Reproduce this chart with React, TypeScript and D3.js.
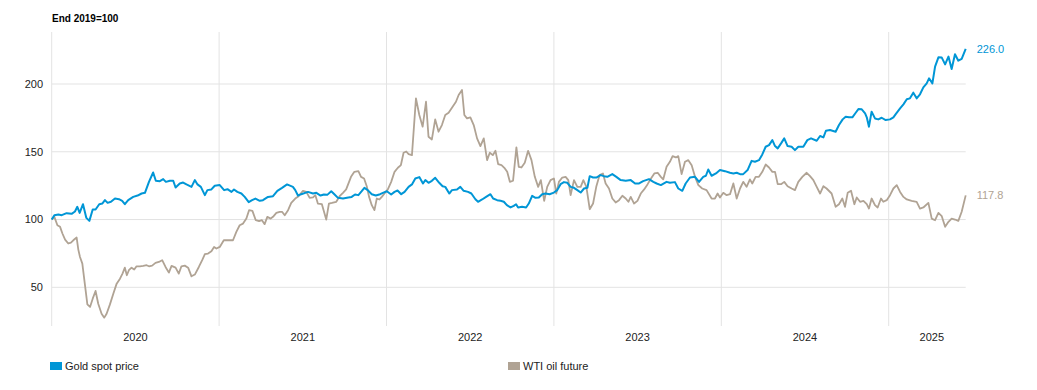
import React, { useEffect } from 'react';
import * as d3 from 'd3';

// index values, end 2019 = 100; time in fractional years
const title = 'End 2019=100';
const yearTicks = [2020, 2021, 2022, 2023, 2024, 2025];
const valueTicks = [50, 100, 150, 200];
const seriesNames = ['Gold spot price', 'WTI oil future'];
const seriesColors = ['#0096d6', '#b0a394'];

const gold: [number, number][] = [
  [2020.000, 100.0], [2020.016, 103.2], [2020.040, 103.7], [2020.060, 103.2], [2020.089, 104.7],
  [2020.119, 104.2], [2020.139, 105.9], [2020.153, 109.4], [2020.167, 104.9], [2020.187, 111.3],
  [2020.207, 101.2], [2020.225, 99.0], [2020.245, 107.4], [2020.262, 107.4], [2020.284, 111.3],
  [2020.302, 111.8], [2020.318, 114.3], [2020.334, 112.3], [2020.354, 113.1], [2020.378, 115.5],
  [2020.402, 115.0], [2020.421, 113.8], [2020.437, 111.3], [2020.457, 114.3], [2020.487, 116.7],
  [2020.513, 117.7], [2020.537, 119.2], [2020.557, 119.7], [2020.581, 127.8], [2020.606, 134.7],
  [2020.622, 128.6], [2020.646, 128.3], [2020.666, 129.8], [2020.682, 127.8], [2020.706, 128.6],
  [2020.726, 128.6], [2020.740, 123.6], [2020.765, 126.6], [2020.785, 127.3], [2020.805, 125.9],
  [2020.835, 124.1], [2020.855, 129.1], [2020.871, 125.9], [2020.891, 124.1], [2020.915, 118.0],
  [2020.930, 121.7], [2020.954, 122.2], [2020.974, 124.9], [2021.004, 125.4], [2021.030, 121.7],
  [2021.050, 122.4], [2021.074, 120.4], [2021.089, 122.2], [2021.109, 120.4], [2021.133, 119.2],
  [2021.153, 116.7], [2021.177, 112.8], [2021.197, 114.3], [2021.217, 115.5], [2021.243, 113.8],
  [2021.262, 114.3], [2021.292, 116.7], [2021.322, 117.2], [2021.348, 121.2], [2021.376, 123.4],
  [2021.406, 125.9], [2021.441, 124.1], [2021.455, 121.7], [2021.471, 117.7], [2021.491, 118.7],
  [2021.531, 120.4], [2021.561, 119.2], [2021.581, 119.7], [2021.606, 117.7], [2021.626, 118.5],
  [2021.646, 118.2], [2021.670, 120.9], [2021.690, 118.5], [2021.710, 116.0], [2021.740, 115.5],
  [2021.772, 116.3], [2021.792, 116.7], [2021.812, 118.5], [2021.832, 118.0], [2021.852, 120.9],
  [2021.868, 123.4], [2021.888, 121.7], [2021.912, 118.7], [2021.936, 117.7], [2021.962, 118.7],
  [2021.982, 119.9], [2022.002, 120.9], [2022.028, 118.5], [2022.048, 120.4], [2022.066, 121.4],
  [2022.088, 118.7], [2022.108, 120.4], [2022.132, 124.1], [2022.152, 125.9], [2022.172, 130.3],
  [2022.196, 131.3], [2022.218, 126.6], [2022.232, 129.1], [2022.251, 127.1], [2022.271, 128.6],
  [2022.291, 130.8], [2022.315, 127.1], [2022.335, 124.6], [2022.351, 124.1], [2022.375, 119.2],
  [2022.391, 121.7], [2022.421, 122.2], [2022.441, 124.1], [2022.461, 121.2], [2022.487, 120.4],
  [2022.507, 119.2], [2022.531, 115.0], [2022.547, 113.1], [2022.571, 114.8], [2022.595, 116.7],
  [2022.621, 118.7], [2022.637, 115.5], [2022.661, 114.3], [2022.681, 113.8], [2022.701, 113.1],
  [2022.719, 110.6], [2022.741, 108.9], [2022.760, 110.1], [2022.774, 111.3], [2022.786, 108.9],
  [2022.810, 109.4], [2022.834, 108.9], [2022.850, 111.8], [2022.870, 117.5], [2022.890, 116.0],
  [2022.910, 116.3], [2022.930, 118.7], [2022.950, 119.2], [2022.974, 118.7], [2023.000, 119.9],
  [2023.020, 121.7], [2023.040, 126.1], [2023.060, 127.6], [2023.080, 127.1], [2023.100, 124.1],
  [2023.120, 123.4], [2023.140, 121.7], [2023.160, 119.9], [2023.180, 122.9], [2023.200, 123.4],
  [2023.214, 132.0], [2023.234, 131.0], [2023.253, 131.0], [2023.279, 132.8], [2023.299, 132.0],
  [2023.319, 131.5], [2023.349, 133.5], [2023.373, 131.5], [2023.399, 129.1], [2023.429, 128.6],
  [2023.459, 129.1], [2023.485, 126.6], [2023.509, 126.6], [2023.533, 128.3], [2023.568, 129.8],
  [2023.594, 127.8], [2023.614, 126.6], [2023.639, 125.4], [2023.673, 127.8], [2023.693, 127.1],
  [2023.723, 127.6], [2023.743, 122.9], [2023.767, 121.2], [2023.787, 126.6], [2023.813, 131.0],
  [2023.843, 131.5], [2023.867, 127.8], [2023.892, 131.5], [2023.908, 132.3], [2023.922, 136.9],
  [2023.942, 132.3], [2023.968, 134.0], [2023.992, 136.5], [2024.022, 135.7], [2024.052, 134.5],
  [2024.072, 134.0], [2024.092, 134.5], [2024.112, 133.5], [2024.131, 133.5], [2024.157, 136.5],
  [2024.181, 143.3], [2024.201, 142.6], [2024.225, 143.8], [2024.245, 148.0], [2024.265, 153.7],
  [2024.285, 154.9], [2024.305, 158.6], [2024.321, 154.2], [2024.337, 152.5], [2024.357, 156.2],
  [2024.376, 159.9], [2024.396, 154.2], [2024.420, 153.7], [2024.440, 151.2], [2024.460, 153.7],
  [2024.490, 153.7], [2024.514, 158.6], [2024.536, 159.9], [2024.570, 158.1], [2024.590, 161.6],
  [2024.610, 160.6], [2024.625, 165.5], [2024.649, 166.0], [2024.683, 164.8], [2024.703, 169.7],
  [2024.725, 173.9], [2024.743, 175.9], [2024.763, 175.4], [2024.783, 175.4], [2024.803, 178.8],
  [2024.819, 181.5], [2024.839, 181.3], [2024.859, 178.3], [2024.869, 175.4], [2024.882, 168.5],
  [2024.898, 179.6], [2024.918, 174.6], [2024.938, 173.9], [2024.958, 175.1], [2024.982, 173.4],
  [2025.008, 173.9], [2025.028, 175.4], [2025.042, 177.8], [2025.068, 182.0], [2025.088, 185.0],
  [2025.108, 188.7], [2025.127, 189.4], [2025.147, 193.6], [2025.167, 189.4], [2025.187, 192.4],
  [2025.207, 197.5], [2025.227, 200.5], [2025.241, 204.2], [2025.261, 200.5], [2025.277, 212.8],
  [2025.297, 219.7], [2025.317, 219.5], [2025.337, 214.5], [2025.357, 220.2], [2025.376, 211.1],
  [2025.396, 221.9], [2025.416, 217.2], [2025.436, 218.5], [2025.460, 226.0],
];

const oil: [number, number][] = [
  [2020.000, 100.0], [2020.016, 102.0], [2020.034, 95.8], [2020.050, 94.6], [2020.064, 89.7],
  [2020.080, 85.2], [2020.099, 82.3], [2020.115, 83.0], [2020.129, 84.7], [2020.149, 86.7],
  [2020.159, 77.8], [2020.169, 72.4], [2020.183, 67.5], [2020.199, 51.5], [2020.213, 37.4],
  [2020.229, 35.5], [2020.245, 41.6], [2020.262, 47.3], [2020.278, 37.9], [2020.298, 30.5],
  [2020.314, 27.6], [2020.328, 30.5], [2020.348, 37.4], [2020.368, 45.3], [2020.388, 52.7],
  [2020.408, 56.4], [2020.423, 60.1], [2020.437, 64.5], [2020.449, 58.9], [2020.461, 62.6],
  [2020.477, 64.5], [2020.493, 63.1], [2020.507, 65.5], [2020.527, 65.5], [2020.547, 65.8],
  [2020.567, 66.3], [2020.581, 65.5], [2020.600, 66.0], [2020.620, 68.0], [2020.640, 68.7],
  [2020.660, 70.0], [2020.680, 65.0], [2020.700, 60.8], [2020.716, 65.8], [2020.740, 64.5],
  [2020.759, 60.1], [2020.775, 65.5], [2020.795, 66.0], [2020.815, 64.5], [2020.835, 58.1],
  [2020.855, 59.4], [2020.879, 65.0], [2020.899, 70.0], [2020.915, 74.4], [2020.934, 74.9],
  [2020.954, 76.6], [2020.970, 79.8], [2020.984, 78.6], [2021.004, 79.8], [2021.028, 84.7],
  [2021.050, 84.7], [2021.083, 84.7], [2021.103, 90.9], [2021.123, 95.8], [2021.143, 97.0],
  [2021.163, 100.7], [2021.179, 106.9], [2021.199, 106.4], [2021.219, 99.5], [2021.239, 98.8],
  [2021.256, 99.5], [2021.272, 96.6], [2021.288, 102.0], [2021.308, 100.7], [2021.322, 102.0],
  [2021.342, 104.9], [2021.362, 105.7], [2021.376, 105.7], [2021.392, 103.2], [2021.412, 106.9],
  [2021.431, 112.3], [2021.455, 115.5], [2021.475, 117.2], [2021.501, 121.2], [2021.521, 120.4],
  [2021.541, 116.0], [2021.561, 116.3], [2021.575, 118.0], [2021.590, 111.8], [2021.614, 111.3],
  [2021.640, 100.0], [2021.656, 111.8], [2021.674, 112.3], [2021.700, 113.1], [2021.720, 117.2],
  [2021.740, 119.7], [2021.759, 122.2], [2021.788, 131.5], [2021.808, 135.2], [2021.832, 135.7],
  [2021.848, 131.5], [2021.866, 130.3], [2021.882, 124.6], [2021.896, 116.7], [2021.912, 110.6],
  [2021.928, 106.9], [2021.942, 115.5], [2021.958, 114.8], [2021.972, 116.7], [2021.988, 119.2],
  [2022.008, 122.2], [2022.028, 127.8], [2022.048, 135.2], [2022.068, 138.2], [2022.086, 140.2],
  [2022.102, 149.3], [2022.118, 150.2], [2022.132, 148.3], [2022.152, 147.5], [2022.176, 189.4],
  [2022.196, 177.1], [2022.216, 168.5], [2022.236, 186.9], [2022.251, 161.1], [2022.271, 159.1],
  [2022.291, 173.9], [2022.311, 164.8], [2022.331, 169.7], [2022.351, 177.1], [2022.371, 178.8],
  [2022.395, 183.3], [2022.415, 186.9], [2022.431, 191.9], [2022.451, 195.6], [2022.465, 177.1],
  [2022.481, 174.6], [2022.501, 175.4], [2022.521, 169.7], [2022.541, 159.9], [2022.561, 154.2],
  [2022.581, 159.9], [2022.601, 143.8], [2022.617, 149.3], [2022.635, 147.5], [2022.651, 150.7],
  [2022.667, 140.9], [2022.687, 140.1], [2022.707, 137.7], [2022.721, 135.2], [2022.737, 127.8],
  [2022.756, 128.6], [2022.776, 153.2], [2022.790, 138.9], [2022.806, 138.4], [2022.826, 141.9],
  [2022.846, 150.7], [2022.866, 143.8], [2022.886, 131.5], [2022.906, 124.1], [2022.922, 129.1],
  [2022.942, 113.8], [2022.960, 124.1], [2022.980, 129.1], [2023.000, 130.3], [2023.014, 119.2],
  [2023.030, 127.8], [2023.050, 131.0], [2023.070, 131.5], [2023.086, 129.1], [2023.100, 118.0],
  [2023.120, 129.1], [2023.140, 124.1], [2023.160, 124.1], [2023.176, 129.1], [2023.194, 124.1],
  [2023.214, 107.6], [2023.234, 111.8], [2023.253, 124.1], [2023.273, 132.8], [2023.293, 134.0],
  [2023.309, 126.6], [2023.329, 122.9], [2023.349, 115.5], [2023.369, 112.6], [2023.389, 114.3],
  [2023.409, 117.5], [2023.429, 115.5], [2023.445, 113.1], [2023.459, 116.7], [2023.479, 111.8],
  [2023.499, 113.8], [2023.519, 119.2], [2023.539, 122.2], [2023.560, 126.1], [2023.580, 130.3],
  [2023.600, 134.0], [2023.620, 134.5], [2023.639, 131.5], [2023.653, 129.6], [2023.673, 138.9],
  [2023.693, 142.6], [2023.709, 146.8], [2023.729, 145.8], [2023.743, 146.8], [2023.763, 133.5],
  [2023.783, 142.6], [2023.803, 143.8], [2023.823, 140.1], [2023.843, 131.5], [2023.863, 125.4],
  [2023.886, 122.9], [2023.912, 121.7], [2023.942, 115.5], [2023.962, 115.5], [2023.978, 119.2],
  [2023.992, 116.3], [2024.012, 119.7], [2024.032, 118.0], [2024.052, 118.7], [2024.072, 126.6],
  [2024.092, 115.5], [2024.112, 122.9], [2024.131, 127.8], [2024.151, 124.1], [2024.171, 129.6],
  [2024.185, 126.6], [2024.205, 131.5], [2024.225, 131.5], [2024.245, 135.2], [2024.265, 140.6],
  [2024.285, 138.4], [2024.305, 135.2], [2024.321, 135.2], [2024.337, 126.1], [2024.357, 126.1],
  [2024.376, 127.8], [2024.396, 124.6], [2024.420, 122.9], [2024.440, 121.7], [2024.460, 127.8],
  [2024.484, 131.5], [2024.510, 134.5], [2024.530, 132.0], [2024.550, 129.1], [2024.570, 124.1],
  [2024.590, 119.2], [2024.610, 124.6], [2024.629, 122.9], [2024.659, 119.2], [2024.683, 109.4],
  [2024.703, 111.3], [2024.723, 115.5], [2024.739, 109.4], [2024.755, 119.7], [2024.775, 121.2],
  [2024.795, 111.3], [2024.809, 116.3], [2024.829, 113.1], [2024.849, 113.8], [2024.869, 111.3],
  [2024.882, 108.1], [2024.898, 115.5], [2024.918, 110.6], [2024.934, 108.9], [2024.954, 115.5],
  [2024.968, 113.1], [2024.988, 114.3], [2025.008, 118.0], [2025.028, 122.9], [2025.048, 125.4],
  [2025.068, 120.4], [2025.088, 116.7], [2025.108, 114.8], [2025.137, 113.8], [2025.167, 113.1],
  [2025.187, 108.1], [2025.207, 108.9], [2025.237, 112.3], [2025.257, 100.7], [2025.277, 99.5],
  [2025.297, 104.9], [2025.317, 102.5], [2025.337, 94.6], [2025.357, 98.3], [2025.376, 100.7],
  [2025.396, 100.0], [2025.416, 99.0], [2025.436, 105.7], [2025.460, 117.8],
];

const width = 1037;
const height = 390;
const font = 'Arial, "Liberation Sans", sans-serif';

const App = () => {
  useEffect(() => {
    document.body.style.margin = '0';
  }, []);

  const x = d3.scaleLinear().domain([2020, 2025]).range([51.7, 888.7]);
  const y = d3.scaleLinear().domain([50, 200]).range([287.3, 84]);
  const plotTop = 32;
  const plotBottom = 326;
  const plotRight = 975;

  const series = [gold, oil];
  const lastT = gold[gold.length - 1][0];
  const gridRight = x(lastT);

  const line = d3.line<[number, number]>()
    .x(d => x(d[0]))
    .y(d => y(d[1]));

  const legendX = [50, 508];

  return (
    <svg width={width} height={height} style={{ display: 'block', fontFamily: font }}>
      <text x={52} y={22} fontSize={10} fontWeight="bold" fill="#000">{title}</text>

      {/* horizontal grid + y labels */}
      {valueTicks.map(v => (
        <g key={v}>
          <line x1={x(2020)} x2={gridRight} y1={y(v)} y2={y(v)} stroke="#e3e3e3" strokeWidth={1} />
          <text x={43} y={y(v)} dy="0.35em" textAnchor="end" fontSize={11} fill="#222">{v}</text>
        </g>
      ))}

      {/* vertical year grid + labels */}
      {yearTicks.map(t => {
        const x0 = x(t);
        const x1 = Math.min(x(t + 1), plotRight);
        return (
          <g key={t}>
            <line x1={x0} x2={x0} y1={plotTop} y2={plotBottom} stroke="#e3e3e3" strokeWidth={1} />
            <text x={(x0 + x1) / 2} y={340.5} textAnchor="middle" fontSize={11} fill="#222">{t}</text>
          </g>
        );
      })}

      {/* lines, oil under gold */}
      {[1, 0].map(i => (
        <path key={i} d={line(series[i]) || ''} fill="none" stroke={seriesColors[i]}
          strokeWidth={i === 0 ? 2 : 1.8} strokeLinejoin="round" />
      ))}

      {/* end labels */}
      {series.map((s, i) => {
        const last = s[s.length - 1];
        return (
          <text key={i} x={x(last[0]) + 11} y={y(last[1])} dy="0.35em" fontSize={11} fill={seriesColors[i]}>
            {last[1].toFixed(1)}
          </text>
        );
      })}

      {/* legend */}
      {seriesNames.map((name, i) => (
        <g key={name} transform={`translate(${legendX[i]},362)`}>
          <rect width={12} height={8} fill={seriesColors[i]} />
          <text x={15} y={4} dy="0.35em" fontSize={11} fill="#222">{name}</text>
        </g>
      ))}
    </svg>
  );
};

export default App;
